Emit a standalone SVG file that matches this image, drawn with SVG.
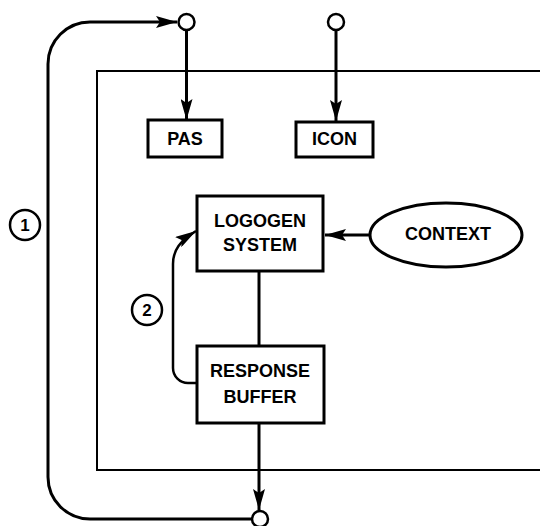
<svg xmlns="http://www.w3.org/2000/svg" width="540" height="526" viewBox="0 0 540 526">
<style>
.box{fill:#fff;stroke:#000;stroke-width:3}
.frame{fill:none;stroke:#000;stroke-width:2}
.con{fill:none;stroke:#000;stroke-width:3}
.thin{fill:none;stroke:#000;stroke-width:2.5}
.port{fill:#fff;stroke:#000;stroke-width:2.5}
.lbl{font-family:"Liberation Sans",Arial,sans-serif;font-weight:bold;font-size:18px;text-anchor:middle;fill:#000}
.num{font-family:"Liberation Sans",Arial,sans-serif;font-weight:bold;font-size:17px;text-anchor:middle;fill:#000}
</style>
<defs>
<marker id="ah" markerUnits="userSpaceOnUse" markerWidth="21" markerHeight="12" refX="21" refY="6" orient="auto">
<path d="M0,0 L21,6 L0,12 L4,6 z" fill="#000"/>
</marker>
</defs>
<rect x="0" y="0" width="540" height="526" fill="#fff"/>
<g id="frame">
<path class="frame" d="M541,71 H97 V470 H541"/>
</g>
<g id="connectors">
<path class="con" d="M252,519 H90 A42 42 0 0 1 48 477 V64 A42 42 0 0 1 90 22 H177" marker-end="url(#ah)"/>
<path class="con" d="M186.5,30 V120" marker-end="url(#ah)"/>
<path class="con" d="M336,30 V121" marker-end="url(#ah)"/>
<path class="con" d="M370,235 H325" marker-end="url(#ah)"/>
<path class="con" d="M259,271 V346"/>
<path class="con" d="M259,423 V510" marker-end="url(#ah)"/>
<path class="thin" d="M197,383 H188 A15 15 0 0 1 173 368 V264 C173,250 180,241 196,231" marker-end="url(#ah)"/>
</g>
<g id="port-top-left"><circle class="port" cx="186.5" cy="22" r="8"/></g>
<g id="port-top-right"><circle class="port" cx="336" cy="22" r="8"/></g>
<g id="port-bottom"><circle class="port" cx="260" cy="519" r="8"/></g>
<g id="pas"><rect class="box" x="148" y="120" width="74" height="37"/><text class="lbl" x="185" y="145">PAS</text></g>
<g id="icon"><rect class="box" x="296" y="122" width="77" height="35"/><text class="lbl" x="334.5" y="145">ICON</text></g>
<g id="logogen"><rect class="box" x="197" y="196" width="126" height="75"/><text class="lbl" x="260" y="227">LOGOGEN</text><text class="lbl" x="260" y="251">SYSTEM</text></g>
<g id="context"><ellipse class="box" cx="446" cy="235" rx="76" ry="32"/><text class="lbl" x="448" y="240">CONTEXT</text></g>
<g id="response"><rect class="box" x="197" y="346" width="127" height="77"/><text class="lbl" x="260" y="377">RESPONSE</text><text class="lbl" x="260" y="403">BUFFER</text></g>
<g id="label-1"><circle class="thin" cx="25" cy="225" r="15"/><text class="num" x="25" y="231">1</text></g>
<g id="label-2"><circle class="thin" cx="147" cy="310" r="15"/><text class="num" x="147" y="316">2</text></g>
</svg>
